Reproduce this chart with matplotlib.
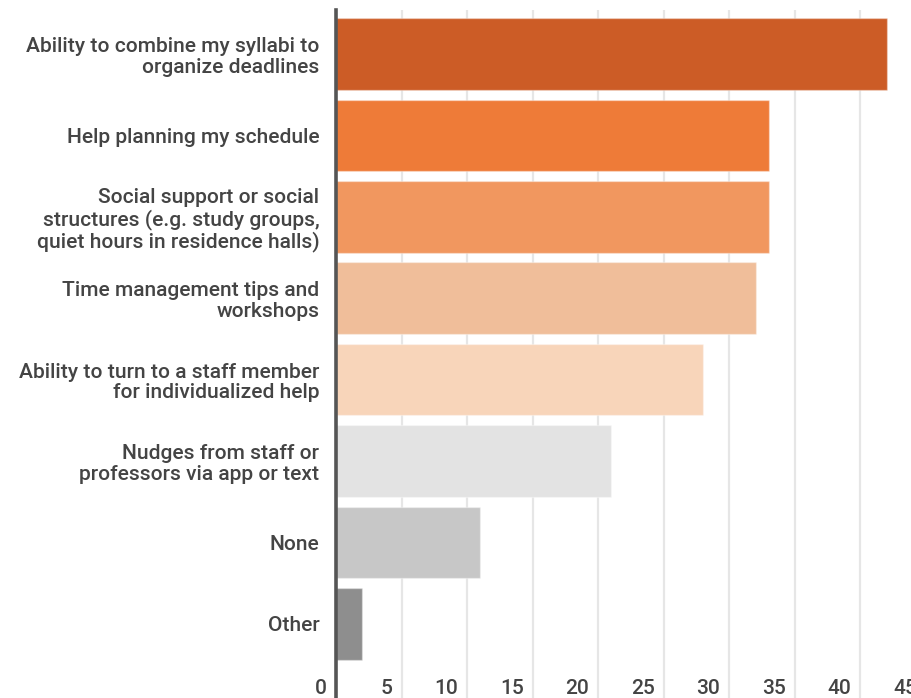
import matplotlib
matplotlib.use("Agg")
import matplotlib.pyplot as plt
import matplotlib.transforms as mtransforms

categories = [
    "Ability to combine my syllabi to\norganize deadlines",
    "Help planning my schedule",
    "Social support or social\nstructures (e.g. study groups,\nquiet hours in residence halls)",
    "Time management tips and\nworkshops",
    "Ability to turn to a staff member\nfor individualized help",
    "Nudges from staff or\nprofessors via app or text",
    "None",
    "Other",
]
values = [42, 33, 33, 32, 28, 21, 11, 2]
bar_colors = ["#CC5C26", "#EE7B38", "#F1975F", "#F0BE9A",
              "#F8D5BA", "#E3E3E3", "#C7C7C7", "#8E8E8E"]
xticks = [0, 5, 10, 15, 20, 25, 30, 35, 40, 45]

W, H, DPI = 912, 698, 100
fig = plt.figure(figsize=(W / DPI, H / DPI), dpi=DPI, facecolor="white")

# axes runs past the right and bottom edges, like the cropped original
left, right, top, bottom = 336, 926, 10, 698
ax = fig.add_axes([left / W, 1 - bottom / H, (right - left) / W, (bottom - top) / H])

pos = list(range(len(categories)))
ax.barh(pos, values, height=0.88, color=bar_colors,
        edgecolor=(1, 1, 1, 0.35), linewidth=1, zorder=3)

ax.set_xlim(0, 45)
ax.set_ylim(7.91, -0.54)
ax.set_xticks(xticks)
ax.set_yticks(pos)
ax.set_yticklabels(categories, fontsize=15.1, color="#444444",
                   fontfamily="Roboto", fontweight="medium", linespacing=1.12)
ax.tick_params(axis="y", length=0, pad=12)
ax.tick_params(axis="x", length=0, direction="in", pad=-14,
               labelsize=15, labelcolor="#444444")
for lbl in ax.get_xticklabels():
    lbl.set_fontfamily("Roboto")
    lbl.set_fontweight("medium")
    lbl.set_horizontalalignment("right")
    lbl.set_transform(lbl.get_transform() +
                      mtransforms.ScaledTranslation(-9 / DPI, 0, fig.dpi_scale_trans))

ax.grid(axis="x", color="#E6E6E6", linewidth=1.6, zorder=0)
ax.grid(axis="y", visible=False)
for s in ["top", "right", "bottom"]:
    ax.spines[s].set_visible(False)
ax.spines["left"].set_color("#555555")
ax.spines["left"].set_linewidth(2.6)
ax.spines["left"].set_zorder(4)

fig.savefig("out.png", dpi=DPI, facecolor="white")
